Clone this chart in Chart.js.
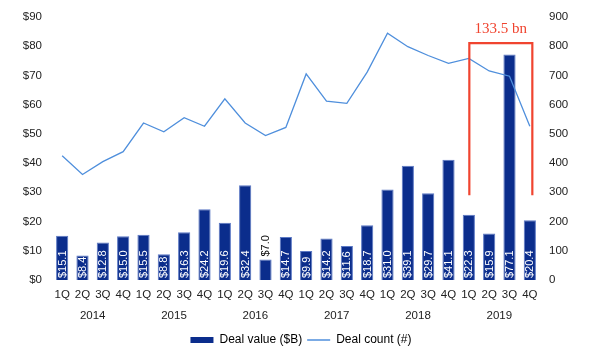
<!DOCTYPE html>
<html>
<head>
<meta charset="utf-8">
<script src="https://cdn.jsdelivr.net/npm/chart.js@4/dist/chart.umd.min.js"></script>
<style>
  html, body { margin: 0; padding: 0; background: #fff; }
  #wrap { width: 602px; height: 356px; position: relative; }
</style>
</head>
<body>
<div id="wrap"><canvas id="c"></canvas></div>
<script>
const quarters = ['1Q','2Q','3Q','4Q','1Q','2Q','3Q','4Q','1Q','2Q','3Q','4Q','1Q','2Q','3Q','4Q','1Q','2Q','3Q','4Q','1Q','2Q','3Q','4Q'];
const years = ['2014','2015','2016','2017','2018','2019'];
const dealValue = [15.1,8.4,12.8,15.0,15.5,8.8,16.3,24.2,19.6,32.4,7.0,14.7,9.9,14.2,11.6,18.7,31.0,39.1,29.7,41.1,22.3,15.9,77.1,20.4];
const dealCount = [425,361,405,439,537,507,555,526,620,537,494,522,705,612,604,711,844,798,768,741,758,715,697,526];
const valueTicks = [0,10,20,30,40,50,60,70,80,90];
const countTicks = [0,100,200,300,400,500,600,700,800,900];
const bracketFrom = 20, bracketTo = 23;
const bracketLabel = '133.5 bn';

const FONT = "'Liberation Sans', Arial, sans-serif";
Chart.defaults.font.family = FONT;
Chart.defaults.color = '#222';

const barLabels = {
  id: 'barLabels',
  afterDatasetsDraw(chart) {
    const meta = chart.getDatasetMeta(0);
    const ctx = chart.ctx;
    ctx.save();
    ctx.font = "11px " + FONT;
    ctx.textBaseline = 'middle';
    meta.data.forEach((bar, i) => {
      const txt = '$' + dealValue[i].toFixed(1);
      const w = ctx.measureText(txt).width;
      const h = bar.base - bar.y;
      ctx.save();
      ctx.translate(bar.x, bar.base);
      ctx.rotate(-Math.PI / 2);
      ctx.textAlign = 'left';
      if (h >= w + 2) {
        ctx.fillStyle = '#ffffff';
        ctx.fillText(txt, 2, 0.5);
      } else {
        ctx.fillStyle = '#111111';
        ctx.fillText(txt, h + 3, 0.5);
      }
      ctx.restore();
    });
    ctx.restore();
  }
};

const bracket = {
  id: 'bracket',
  afterDraw(chart) {
    const x = chart.scales.x, y = chart.scales.y;
    const ctx = chart.ctx;
    const x1 = x.getPixelForValue(bracketFrom) + 0.5;
    const x2 = x.getPixelForValue(bracketTo) + 2.5;
    const yTop = y.getPixelForValue(81);
    const yBot = y.getPixelForValue(29);
    ctx.save();
    ctx.strokeStyle = '#f0442f';
    ctx.lineWidth = 2.2;
    ctx.beginPath();
    ctx.moveTo(x1, yBot);
    ctx.lineTo(x1, yTop);
    ctx.lineTo(x2, yTop);
    ctx.lineTo(x2, yBot);
    ctx.stroke();
    ctx.fillStyle = '#f0442f';
    ctx.font = "15px 'Liberation Serif', 'Times New Roman', serif";
    ctx.textAlign = 'center';
    ctx.textBaseline = 'alphabetic';
    ctx.fillText(bracketLabel, (x1 + x2) / 2, yTop - 10);
    ctx.restore();
  }
};

new Chart(document.getElementById('c'), {
  data: {
    labels: quarters,
    datasets: [
      {
        type: 'bar',
        label: 'Deal value ($B)',
        data: dealValue,
        yAxisID: 'y',
        xAxisID: 'x',
        backgroundColor: '#0b2d8c',
        borderColor: '#5b78c4',
        borderWidth: 1,
        barPercentage: 0.6,
        categoryPercentage: 1.0,
        order: 1
      },
      {
        type: 'line',
        label: 'Deal count (#)',
        data: dealCount,
        yAxisID: 'y1',
        xAxisID: 'x',
        borderColor: '#4f8fdc',
        backgroundColor: '#4f8fdc',
        borderWidth: 1.3,
        pointRadius: 0,
        tension: 0,
        order: 0
      }
    ]
  },
  options: {
    responsive: true,
    maintainAspectRatio: false,
    animation: false,
    layout: { padding: { top: 13, right: 0, bottom: 0, left: 0 } },
    plugins: {
      tooltip: { enabled: false },
      legend: {
        position: 'bottom',
        labels: {
          usePointStyle: true,
          pointStyleWidth: 23,
          boxHeight: 6,
          padding: 5,
          color: '#222',
          font: { size: 12, family: FONT },
          generateLabels(chart) {
            return chart.data.datasets.map((ds, i) => ({
              text: ds.label,
              datasetIndex: i,
              fillStyle: i === 0 ? '#0b2d8c' : '#4f8fdc',
              strokeStyle: i === 0 ? '#0b2d8c' : '#4f8fdc',
              lineWidth: i === 0 ? 0 : 1.5,
              pointStyle: i === 0 ? 'rect' : 'line',
              hidden: false
            }));
          }
        }
      }
    },
    scales: {
      x: {
        type: 'category',
        position: 'bottom',
        offset: true,
        grid: { display: false, drawTicks: false },
        border: { display: false },
        ticks: { padding: 8, maxRotation: 0, autoSkip: false, color: '#222', font: { size: 11.5 } },
        afterFit(s) { s.height = 24; }
      },
      x2: {
        type: 'linear',
        position: 'bottom',
        min: -0.5,
        max: 23.5,
        grid: { display: false, drawTicks: false },
        border: { display: false },
        afterBuildTicks(axis) { axis.ticks = years.map((_, i) => ({ value: 1.5 + 4 * i })); },
        ticks: {
          padding: 5,
          maxRotation: 0,
          autoSkip: false,
          color: '#222',
          font: { size: 11.5 },
          callback(v) { return years[Math.round((v - 1.5) / 4)]; }
        },
        afterFit(s) { s.height = 25; }
      },
      y: {
        position: 'left',
        min: 0,
        max: 90,
        grid: { display: false, drawTicks: false },
        border: { display: false },
        afterBuildTicks(axis) { axis.ticks = valueTicks.map(v => ({ value: v })); },
        ticks: { padding: 10, color: '#222', font: { size: 11.5 }, callback: v => '$' + v },
        afterFit(s) { s.width = 52; }
      },
      y1: {
        position: 'right',
        min: 0,
        max: 900,
        grid: { display: false, drawTicks: false },
        border: { display: false },
        afterBuildTicks(axis) { axis.ticks = countTicks.map(v => ({ value: v })); },
        ticks: { padding: 9, color: '#222', font: { size: 11.5 } },
        afterFit(s) { s.width = 62; }
      }
    }
  },
  plugins: [barLabels, bracket]
});
</script>
</body>
</html>
